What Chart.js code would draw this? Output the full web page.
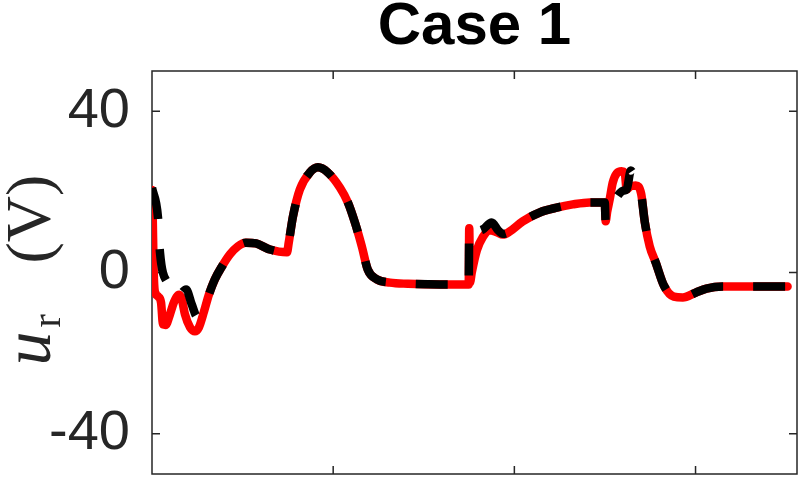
<!DOCTYPE html>
<html>
<head>
<meta charset="utf-8">
<script src="https://cdn.jsdelivr.net/npm/chart.js@4.4.1/dist/chart.umd.min.js"></script>
<style>
  html, body { margin: 0; padding: 0; background: #fff; }
  #contenedor { width: 801px; height: 478px; }
</style>
</head>
<body>
<div id="contenedor"><canvas id="chartCaso1"></canvas></div>
<script>
// valores (tiempo en s, tensión en V)
const tiempoReal = [
  0, 0.004, 0.008, 0.012, 0.02, 0.035, 0.05, 0.061, 0.075, 0.099, 0.121, 0.15, 0.165, 0.182,
  0.21, 0.237, 0.259, 0.287, 0.314, 0.347, 0.386, 0.43, 0.474, 0.518, 0.574, 0.651, 0.745,
  0.755, 0.778, 0.816, 0.871, 0.916, 0.971, 1.037, 1.081, 1.12, 1.158, 1.191, 1.241, 1.313,
  1.412, 1.589, 1.748, 1.751, 1.755, 1.765, 1.793, 1.826, 1.864, 1.903, 1.936, 1.975, 2.046,
  2.14, 2.234, 2.322, 2.416, 2.499, 2.504, 2.512, 2.526, 2.543, 2.565, 2.592, 2.609, 2.62,
  2.637, 2.67, 2.7, 2.72, 2.747, 2.78, 2.826, 2.88, 2.93, 3.0, 3.06, 3.15, 3.337, 3.508,
]
const tensionReal = [
  20.5, 14, 3, -3.0, -5.2, -6.0, -7.5, -12.9, -13.0, -10.4, -7.4, -5.5, -6.7, -10.4,
  -13.6, -14.6, -13.6, -9.7, -5.5, -1.7, 1.5, 4.5, 6.5, 7.4, 7.2, 5.7, 5.0,
  7.5, 13.9, 20.6, 24.8, 26.1, 24.8, 21.1, 17.4, 12.4, 6.5, 0.7, -1.7, -2.5,
  -2.8, -3.0, -3.0, 11.0, -2.5, 0.0, 5.5, 8.8, 10.5, 10.0, 9.4, 10.2, 12.7,
  14.9, 16.1, 16.9, 17.4, 17.4, 12.7, 15.0, 18.1, 22.3, 24.6, 25.1, 24.8, 20.6,
  21.3, 21.6, 19.5, 12.5, 6.5, 2.5, -3.3, -6.0, -6.2, -5.0, -4.0, -3.5, -3.5, -3.5,
]
const tiempoRef = [
  0, 0.033, 0.044, 0.088, 0.121, 0.154, 0.188, 0.22, 0.25, 0.268, 0.287, 0.314, 0.347, 0.386,
  0.43, 0.474, 0.518, 0.574, 0.651, 0.745, 0.755, 0.778, 0.816, 0.871, 0.916, 0.971, 1.037,
  1.081, 1.12, 1.158, 1.191, 1.241, 1.313, 1.412, 1.589, 1.748, 1.751, 1.765, 1.782, 1.826,
  1.875, 1.91, 1.936, 1.975, 2.046, 2.14, 2.234, 2.322, 2.416, 2.499, 2.504, 2.55, 2.6, 2.62,
  2.643, 2.665, 2.692, 2.7, 2.72, 2.747, 2.78, 2.826, 2.88, 2.93, 3.0, 3.06, 3.15, 3.337, 3.508,
]
const tensionRef = [
  21.0, 13.7, 5.0, -3.0, -6.2, -5.5, -4.2, -8.0, -11.0, -10.8, -9.2, -5.5, -1.7, 1.5,
  4.5, 6.5, 7.4, 7.2, 5.7, 5.0, 7.5, 13.9, 20.6, 24.8, 26.1, 24.8, 21.1,
  17.4, 12.4, 6.5, 0.7, -1.7, -2.5, -2.8, -3.0, -3.0, 11.2, 10.5, 10.2, 10.7,
  12.4, 10.5, 9.6, 10.2, 12.7, 14.9, 16.1, 16.9, 17.4, 17.4, 12.7, 17.5, 20.3, 20.6,
  25.3, 23.5, 21.1, 19.5, 12.5, 6.5, 2.5, -3.3, -6.0, -6.2, -5.0, -4.0, -3.5, -3.5, -3.5,
]
const ticksY = [-40, 0, 40]
const ticksX = [1, 2, 3]
const limitesX = [0, 3.56]
const limitesY = [-50, 50]

const GRIS = "#262626"

function aPuntos(xs, ys) {
  return xs.map((x, i) => ({ x: x, y: ys[i] }))
}

// caja al estilo MATLAB, con las marcas hacia dentro
const cajaEjes = {
  id: "cajaEjes",
  beforeDatasetsDraw(chart) {
    const { ctx, chartArea: a, scales } = chart
    const largo = 8
    ctx.save()
    ctx.strokeStyle = GRIS
    ctx.lineWidth = 1.5
    ctx.strokeRect(a.left, a.top, a.right - a.left, a.bottom - a.top)
    ctx.beginPath()
    ticksX.forEach((v) => {
      const px = scales.x.getPixelForValue(v)
      ctx.moveTo(px, a.bottom)
      ctx.lineTo(px, a.bottom - largo)
      ctx.moveTo(px, a.top)
      ctx.lineTo(px, a.top + largo)
    })
    ticksY.forEach((v) => {
      const py = scales.y.getPixelForValue(v)
      ctx.moveTo(a.left, py)
      ctx.lineTo(a.left + largo, py)
      ctx.moveTo(a.right, py)
      ctx.lineTo(a.right - largo, py)
    })
    ctx.stroke()
    ctx.restore()
  },
}

// etiqueta del eje y: u_r (V)
const etiquetaY = {
  id: "etiquetaY",
  afterDraw(chart) {
    const { ctx, chartArea: a } = chart
    const cy = (a.top + a.bottom) / 2
    ctx.save()
    ctx.translate(50, cy)
    ctx.rotate(-Math.PI / 2)
    ctx.fillStyle = GRIS
    ctx.textBaseline = "alphabetic"
    ctx.textAlign = "left"
    ctx.font = "italic 68px 'Liberation Serif', serif"
    ctx.fillText("u", -93, 0)
    ctx.font = "40px 'Liberation Serif', serif"
    ctx.fillText("r", -55, 10)
    ctx.font = "64px 'Liberation Serif', serif"
    ctx.fillText("(V)", 9, 0)
    ctx.restore()
  },
}

new Chart(document.getElementById("chartCaso1"), {
  type: "line",
  data: {
    datasets: [
      {
        label: "Referencia",
        data: aPuntos(tiempoRef, tensionRef),
        borderColor: "#000000",
        borderWidth: 8.5,
        borderDash: [32, 30],
        borderCapStyle: "butt",
        borderJoinStyle: "round",
        pointRadius: 0,
        cubicInterpolationMode: "monotone",
        order: 0,
      },
      {
        label: "Real",
        data: aPuntos(tiempoReal, tensionReal),
        borderColor: "#ff0000",
        borderWidth: 8.5,
        borderCapStyle: "round",
        borderJoinStyle: "round",
        pointRadius: 0,
        cubicInterpolationMode: "monotone",
        order: 1,
      },
    ],
  },
  options: {
    responsive: true,
    maintainAspectRatio: false,
    animation: false,
    layout: { padding: { top: 0, right: 4, bottom: 4, left: 0 } },
    plugins: {
      legend: { display: false },
      tooltip: { enabled: false },
      title: {
        display: true,
        text: "Case 1",
        fullSize: false,
        color: "#000000",
        font: { family: "'Liberation Sans', Arial, sans-serif", size: 60, weight: "bold", lineHeight: 0.9 },
        padding: { top: 0, bottom: 17 },
      },
    },
    scales: {
      x: { type: "linear", display: false, min: limitesX[0], max: limitesX[1] },
      y: {
        min: limitesY[0],
        max: limitesY[1],
        afterBuildTicks: (s) => { s.ticks = ticksY.map((v) => ({ value: v })) },
        afterFit: (s) => {
          s.width = 152
          s.paddingTop = 0
          s.paddingBottom = 0
        },
        grid: { display: false, drawTicks: false },
        border: { display: false },
        ticks: {
          color: GRIS,
          padding: 22,
          font: { family: "'Liberation Sans', Arial, sans-serif", size: 56 },
        },
      },
    },
  },
  plugins: [cajaEjes, etiquetaY],
})
</script>
</body>
</html>
